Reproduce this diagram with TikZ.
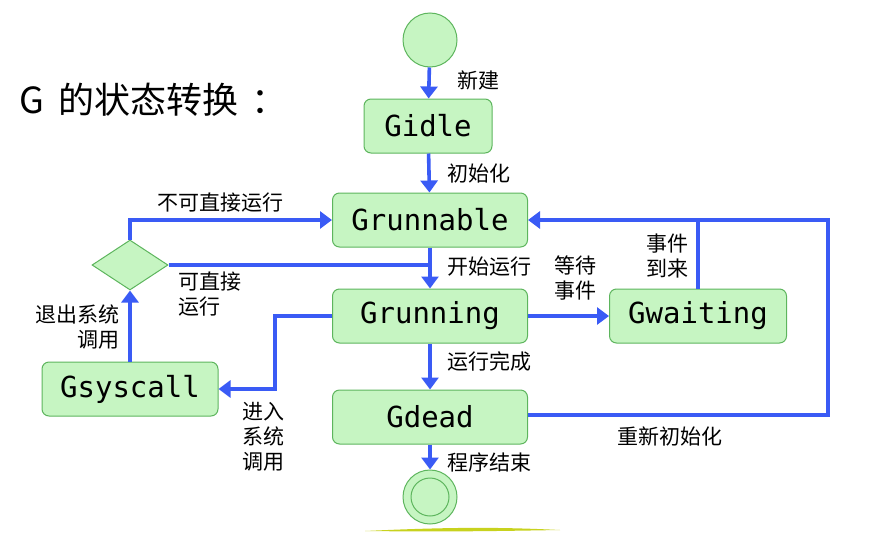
\documentclass[tikz,border=0pt]{standalone}
\usepackage{fontspec}
\setmainfont{Noto Sans CJK SC}
\newfontfamily\monofont{DejaVu Sans Mono}
\usetikzlibrary{arrows.meta,shapes.geometric,positioning}
\definecolor{boxfill}{HTML}{C6F5C2}
\definecolor{boxdraw}{HTML}{5DB55D}
\definecolor{arrowblue}{HTML}{3A5BF5}
\definecolor{deco}{HTML}{C8D21E}
\begin{document}
\begin{tikzpicture}[x=1pt,y=-1pt,
  state/.style={draw=boxdraw,fill=boxfill,line width=1pt,rounded corners=7pt,
    minimum height=54pt,font=\monofont\fontsize{29}{32}\selectfont,inner sep=0pt},
  conn/.style={draw=arrowblue,line width=3.6pt},
  arr/.style={conn,-{Triangle[width=17pt,length=12pt]}},
  lbl/.style={font=\fontsize{21}{25}\selectfont,inner sep=0pt,align=center}]
\useasboundingbox (0,0) rectangle (880,533);
% title
\node[font=\fontsize{36}{40}\selectfont,anchor=west,inner sep=0pt] (title) at (19,100) {G\hspace{15pt}的状态转换\hspace{12pt}：};
% nodes
\node[circle,draw=boxdraw,fill=boxfill,line width=1pt,minimum size=54pt,inner sep=0pt] (start) at (430,40) {};
\node[state,minimum width=128pt] (gi) at (428,126) {Gidle};
\node[state,minimum width=195pt] (grb) at (430,220) {Grunnable};
\node[state,minimum width=195pt] (grn) at (430,316) {Grunning};
\node[state,minimum width=177pt] (gw) at (698,316) {Gwaiting};
\node[state,minimum width=195pt] (gd) at (430,417) {Gdead};
\node[state,minimum width=176pt] (gs) at (130,389) {Gsyscall};
\node[diamond,draw=boxdraw,fill=boxfill,line width=1pt,minimum width=76pt,minimum height=50pt,inner sep=0pt] (dm) at (130,265) {};
\node[circle,draw=boxdraw,fill=boxfill,line width=1pt,minimum size=54pt,inner sep=0pt] (end) at (430,497) {};
\node[circle,draw=boxdraw,line width=1pt,minimum size=38pt,inner sep=0pt] (endin) at (end) {};
% coordinates
\coordinate (syscorner) at (275,316);
\coordinate (loopc) at (828,415);
% connectors
\draw[arr] (start) -- (gi);
\draw[arr] (gi) -- (grb);
\draw[arr] (grb) -- (grn);
\draw[conn] (dm.east) -- (dm.east -| grb.south);
\draw[arr] (dm.north) |- (grb.west);
\draw[arr] (gs.north) -- (dm.south);
\draw[arr] (grn.west) -- (syscorner) |- (gs.east);
\draw[arr] (grn.east) -- (gw.west);
\draw[arr] (grn) -- (gd);
\draw[arr] (gd) -- (end);
\draw[conn] (gw.north) -- (gw.north |- grb.east);
\draw[arr] (gd.east |- loopc) -- (loopc) |- (grb.east);
% labels
\node[lbl,anchor=west] (l1) at (457,80) {新建};
\node[lbl,anchor=west] (l2) at (447,174) {初始化};
\node[lbl,anchor=west] (l3) at (447,267) {开始运行};
\node[lbl] (l4) at (220,203) {不可直接运行};
\node[lbl,align=left,anchor=north west] (l5) at (178,272) {可直接\\运行};
\node[lbl,align=right,anchor=north east] (l6) at (120,305) {退出系统\\调用};
\node[lbl,align=left,anchor=north west] (l7) at (242,402) {进入\\系统\\调用};
\node[lbl,anchor=north] (l8) at (575,256) {等待\\事件};
\node[lbl,anchor=north] (l9) at (667,234) {事件\\到来};
\node[lbl,anchor=west] (l10) at (447,361) {运行完成};
\node[lbl,anchor=west] (l11) at (447,462) {程序结束};
\node[lbl] (l12) at (670,436) {重新初始化};
% bottom decoration
\fill[deco] (365,531) .. controls (450,527) and (500,527) .. (560,530) .. controls (500,531) and (450,532) .. (365,531) -- cycle;
\end{tikzpicture}
\end{document}
